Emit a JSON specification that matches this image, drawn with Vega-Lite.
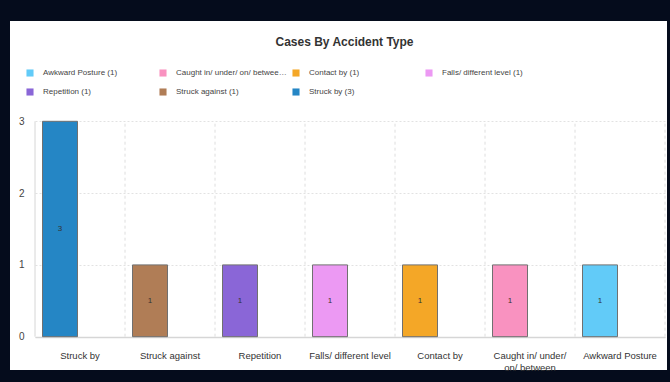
{
  "$schema": "https://vega.github.io/schema/vega-lite/v6.json",
  "width": 657,
  "height": 349,
  "autosize": {"type": "none"},
  "padding": {"left": 10, "top": 21, "right": 3, "bottom": 12},
  "background": "#050c1c",
  "config": {
    "view": {"fill": "white", "stroke": null},
    "font": "Liberation Sans"
  },
  "title": {
    "text": "Cases By Accident Type",
    "fontSize": 12,
    "fontWeight": "bold",
    "color": "#333333",
    "anchor": "middle",
    "dx": 6,
    "offset": -28
  },
  "data": {
    "values": [
      {"type": "Struck by", "legend": "Struck by (3)", "count": 3},
      {"type": "Struck against", "legend": "Struck against (1)", "count": 1},
      {"type": "Repetition", "legend": "Repetition (1)", "count": 1},
      {"type": "Falls/ different level", "legend": "Falls/ different level (1)", "count": 1},
      {"type": "Contact by", "legend": "Contact by (1)", "count": 1},
      {"type": "Caught in/ under/ on/ between", "legend": "Caught in/ under/ on/ between (1)", "count": 1},
      {"type": "Awkward Posture", "legend": "Awkward Posture (1)", "count": 1}
    ]
  },
  "layer": [
    {
      "mark": {"type": "rule", "stroke": "#dedede", "strokeWidth": 1, "strokeDash": [3, 3]},
      "encoding": {
        "x": {"field": "type", "type": "nominal", "bandPosition": 1},
        "y": {"datum": 0},
        "y2": {"datum": 3}
      }
    },
    {
      "transform": [{"filter": "datum.type == 'Struck by'"}],
      "mark": {"type": "rule", "stroke": "#d6d6d6", "strokeWidth": 1},
      "encoding": {
        "x": {"field": "type", "type": "nominal", "bandPosition": 0},
        "y": {"datum": 0},
        "y2": {"datum": 3}
      }
    },
    {
      "mark": {"type": "bar", "width": 35, "xOffset": -20, "stroke": "#707070", "strokeWidth": 1},
      "encoding": {
        "x": {
          "field": "type",
          "type": "nominal",
          "scale": {
            "domain": ["Struck by", "Struck against", "Repetition", "Falls/ different level", "Contact by", "Caught in/ under/ on/ between", "Awkward Posture"],
            "range": [25, 655],
            "paddingInner": 0,
            "paddingOuter": 0
          },
          "axis": {
            "orient": "bottom",
            "offset": -33,
            "title": null,
            "grid": false,
            "ticks": false,
            "domain": true,
            "domainColor": "#d6d6d6",
            "domainWidth": 1.5,
            "labelAngle": 0,
            "labelAlign": "center",
            "labelFontSize": 9.5,
            "labelColor": "#333333",
            "labelPadding": 18,
            "labelLineHeight": 12,
            "labelLimit": 200,
            "labelExpr": "datum.value == 'Caught in/ under/ on/ between' ? ['Caught in/ under/', 'on/ between'] : datum.value"
          }
        },
        "y": {
          "field": "count",
          "type": "quantitative",
          "scale": {"domain": [-0.464, 4.397], "nice": false, "zero": false},
          "axis": {
            "orient": "left",
            "offset": -25,
            "title": null,
            "values": [0, 1, 2, 3],
            "format": "d",
            "domain": false,
            "ticks": false,
            "grid": true,
            "gridScale": "x",
            "gridColor": "#e2e2e2",
            "gridDash": [2, 2],
            "gridWidth": 1,
            "labelFontSize": 10,
            "labelColor": "#444444",
            "labelPadding": 11
          }
        },
        "color": {
          "field": "legend",
          "type": "nominal",
          "scale": {
            "domain": ["Awkward Posture (1)", "Caught in/ under/ on/ between (1)", "Contact by (1)", "Falls/ different level (1)", "Repetition (1)", "Struck against (1)", "Struck by (3)"],
            "range": ["#62cbf8", "#f992c0", "#f4a727", "#ec99f3", "#8a66d7", "#b07d56", "#2586c5"]
          },
          "legend": {
            "orient": "none",
            "direction": "horizontal",
            "legendX": 16,
            "legendY": 48,
            "title": null,
            "columns": 4,
            "gridAlign": "all",
            "symbolType": "square",
            "symbolSize": 50,
            "symbolStrokeWidth": 0,
            "symbolOpacity": 1,
            "labelFontSize": 8,
            "labelColor": "#444444",
            "labelLimit": 113,
            "labelOffset": 9,
            "rowPadding": 11,
            "columnPadding": 5
          }
        }
      }
    },
    {
      "transform": [{"calculate": "datum.count / 2", "as": "mid"}],
      "mark": {"type": "text", "xOffset": -20, "fontSize": 8, "color": "#333333"},
      "encoding": {
        "x": {"field": "type", "type": "nominal"},
        "y": {"field": "mid", "type": "quantitative"},
        "text": {"field": "count", "type": "quantitative"}
      }
    }
  ]
}
